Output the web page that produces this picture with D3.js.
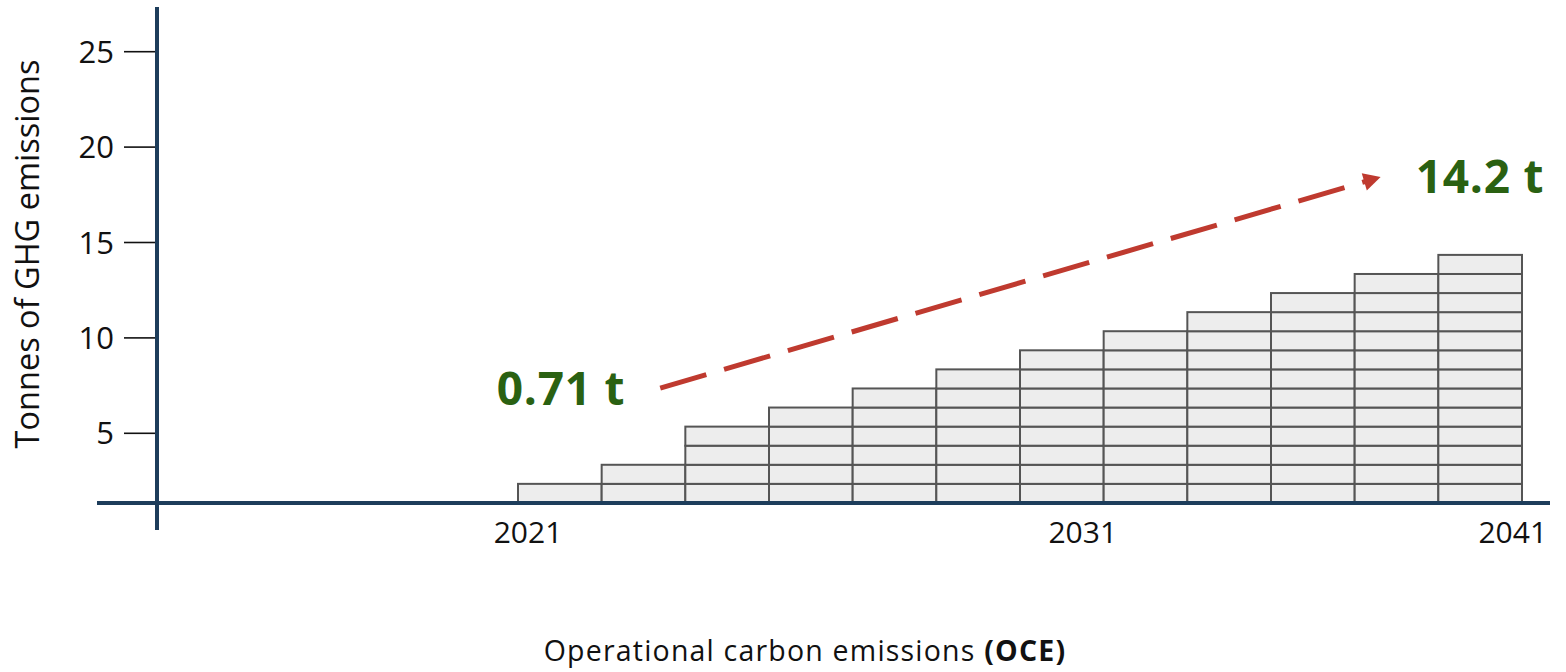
<!DOCTYPE html>
<html>
<head>
<meta charset="utf-8">
<script src="https://cdn.jsdelivr.net/npm/d3@7"></script>
<style>
  html, body { margin: 0; padding: 0; background: #fff; }
  svg { display: block; }
</style>
</head>
<body>
<svg id="chart" width="1566" height="672"></svg>
<script>
// Stacked emission blocks per period (one block = 1 tonne)
const columns = ["c1","c2","c3","c4","c5","c6","c7","c8","c9","c10","c11","c12"];
const blockCounts = [1, 2, 4, 5, 6, 7, 8, 9, 10, 11, 12, 13];
const baseValue = 1.35;              // value where the x axis crosses the y axis

const yTicks = [5, 10, 15, 20, 25];
const yearLabels = ["2021", "2031", "2041"];
const yearSlots = [0.12, 6.75, 11.89]; // label centres, in column units

const startLabel = "0.71 t";
const endLabel = "14.2 t";
const trendFrom = [1.70, 7.37];        // [column units, tonnes]
const trendTo = [10.31, 18.43];

const navy = "#1d3d5b";
const green = "#2a6112";
const red = "#bf3a2f";

const svg = d3.select("#chart");

const x = d3.scaleLinear().domain([0, columns.length]).range([518, 1522]);
const y = d3.scaleLinear().domain([0, 25]).range([528.7, 51.7]);

// blocks
const cells = [];
blockCounts.forEach((n, i) => {
  for (let k = 0; k < n; k++) cells.push({ i, k });
});
svg.append("g").selectAll("rect").data(cells).join("rect")
  .attr("x", d => x(d.i))
  .attr("width", d => x(d.i + 1) - x(d.i))
  .attr("y", d => y(baseValue + d.k + 1))
  .attr("height", d => y(baseValue + d.k) - y(baseValue + d.k + 1))
  .attr("fill", "#ededed")
  .attr("stroke", "#555")
  .attr("stroke-width", 2);

// y axis ticks and labels
const yAxis = svg.append("g");
yAxis.selectAll("line.tick").data(yTicks).join("line")
  .attr("class", "tick")
  .attr("x1", 124).attr("x2", 155)
  .attr("y1", d => y(d)).attr("y2", d => y(d))
  .attr("stroke", "#111").attr("stroke-width", 1.6);
yAxis.selectAll("text").data(yTicks).join("text")
  .attr("x", 114)
  .attr("y", d => y(d))
  .attr("dy", "0.36em")
  .attr("text-anchor", "end")
  .attr("font-family", "Open Sans, sans-serif")
  .attr("font-size", 31)
  .attr("fill", "#111")
  .text(d => d);

// axis lines
svg.append("line")
  .attr("x1", 97).attr("x2", 1550)
  .attr("y1", y(baseValue)).attr("y2", y(baseValue))
  .attr("stroke", navy).attr("stroke-width", 4);
svg.append("line")
  .attr("x1", 157).attr("x2", 157)
  .attr("y1", 7).attr("y2", 530)
  .attr("stroke", navy).attr("stroke-width", 4);

// year labels
svg.append("g").selectAll("text").data(yearLabels).join("text")
  .attr("x", (d, i) => x(yearSlots[i]))
  .attr("y", 543)
  .attr("text-anchor", "middle")
  .attr("font-family", "Open Sans, sans-serif")
  .attr("font-size", 30)
  .attr("fill", "#111")
  .text(d => d);

// axis titles
svg.append("text")
  .attr("transform", "translate(39,254) rotate(-90)")
  .attr("text-anchor", "middle")
  .attr("font-family", "Open Sans, sans-serif")
  .attr("font-size", 32.5)
  .attr("fill", "#111")
  .text("Tonnes of GHG emissions");

const xt = svg.append("text")
  .attr("x", 805).attr("y", 661)
  .attr("text-anchor", "middle")
  .attr("font-family", "Open Sans, sans-serif")
  .attr("font-size", 28.5)
  .attr("font-weight", 400)
  .attr("letter-spacing", 1.2)
  .attr("fill", "#111");
xt.append("tspan").text("Operational carbon emissions ");
xt.append("tspan").attr("font-weight", 700).text("(OCE)");

// dashed trend arrow
const p0 = [x(trendFrom[0]), y(trendFrom[1])];
const p1 = [x(trendTo[0]), y(trendTo[1])];
const ang = Math.atan2(p1[1] - p0[1], p1[0] - p0[0]);
const headLen = 17, headHalf = 9;
const lineEnd = [p1[0] - (headLen - 3) * Math.cos(ang), p1[1] - (headLen - 3) * Math.sin(ang)];
svg.append("line")
  .attr("x1", p0[0]).attr("y1", p0[1])
  .attr("x2", lineEnd[0]).attr("y2", lineEnd[1])
  .attr("stroke", red).attr("stroke-width", 5)
  .attr("stroke-dasharray", "48,18.5");
const bx = p1[0] - headLen * Math.cos(ang), by = p1[1] - headLen * Math.sin(ang);
svg.append("path")
  .attr("d", d3.line()([
    p1,
    [bx + headHalf * Math.sin(ang), by - headHalf * Math.cos(ang)],
    [bx - headHalf * Math.sin(ang), by + headHalf * Math.cos(ang)]
  ]) + "Z")
  .attr("fill", red);

// value labels
svg.append("text")
  .attr("x", 561).attr("y", 405)
  .attr("text-anchor", "middle")
  .attr("font-family", "Open Sans, sans-serif")
  .attr("font-weight", 700)
  .attr("font-size", 46)
  .attr("letter-spacing", 0.8)
  .attr("fill", green)
  .text(startLabel);
svg.append("text")
  .attr("x", 1480).attr("y", 193)
  .attr("text-anchor", "middle")
  .attr("font-family", "Open Sans, sans-serif")
  .attr("font-weight", 700)
  .attr("font-size", 46)
  .attr("letter-spacing", 0.8)
  .attr("fill", green)
  .text(endLabel);
</script>
</body>
</html>
